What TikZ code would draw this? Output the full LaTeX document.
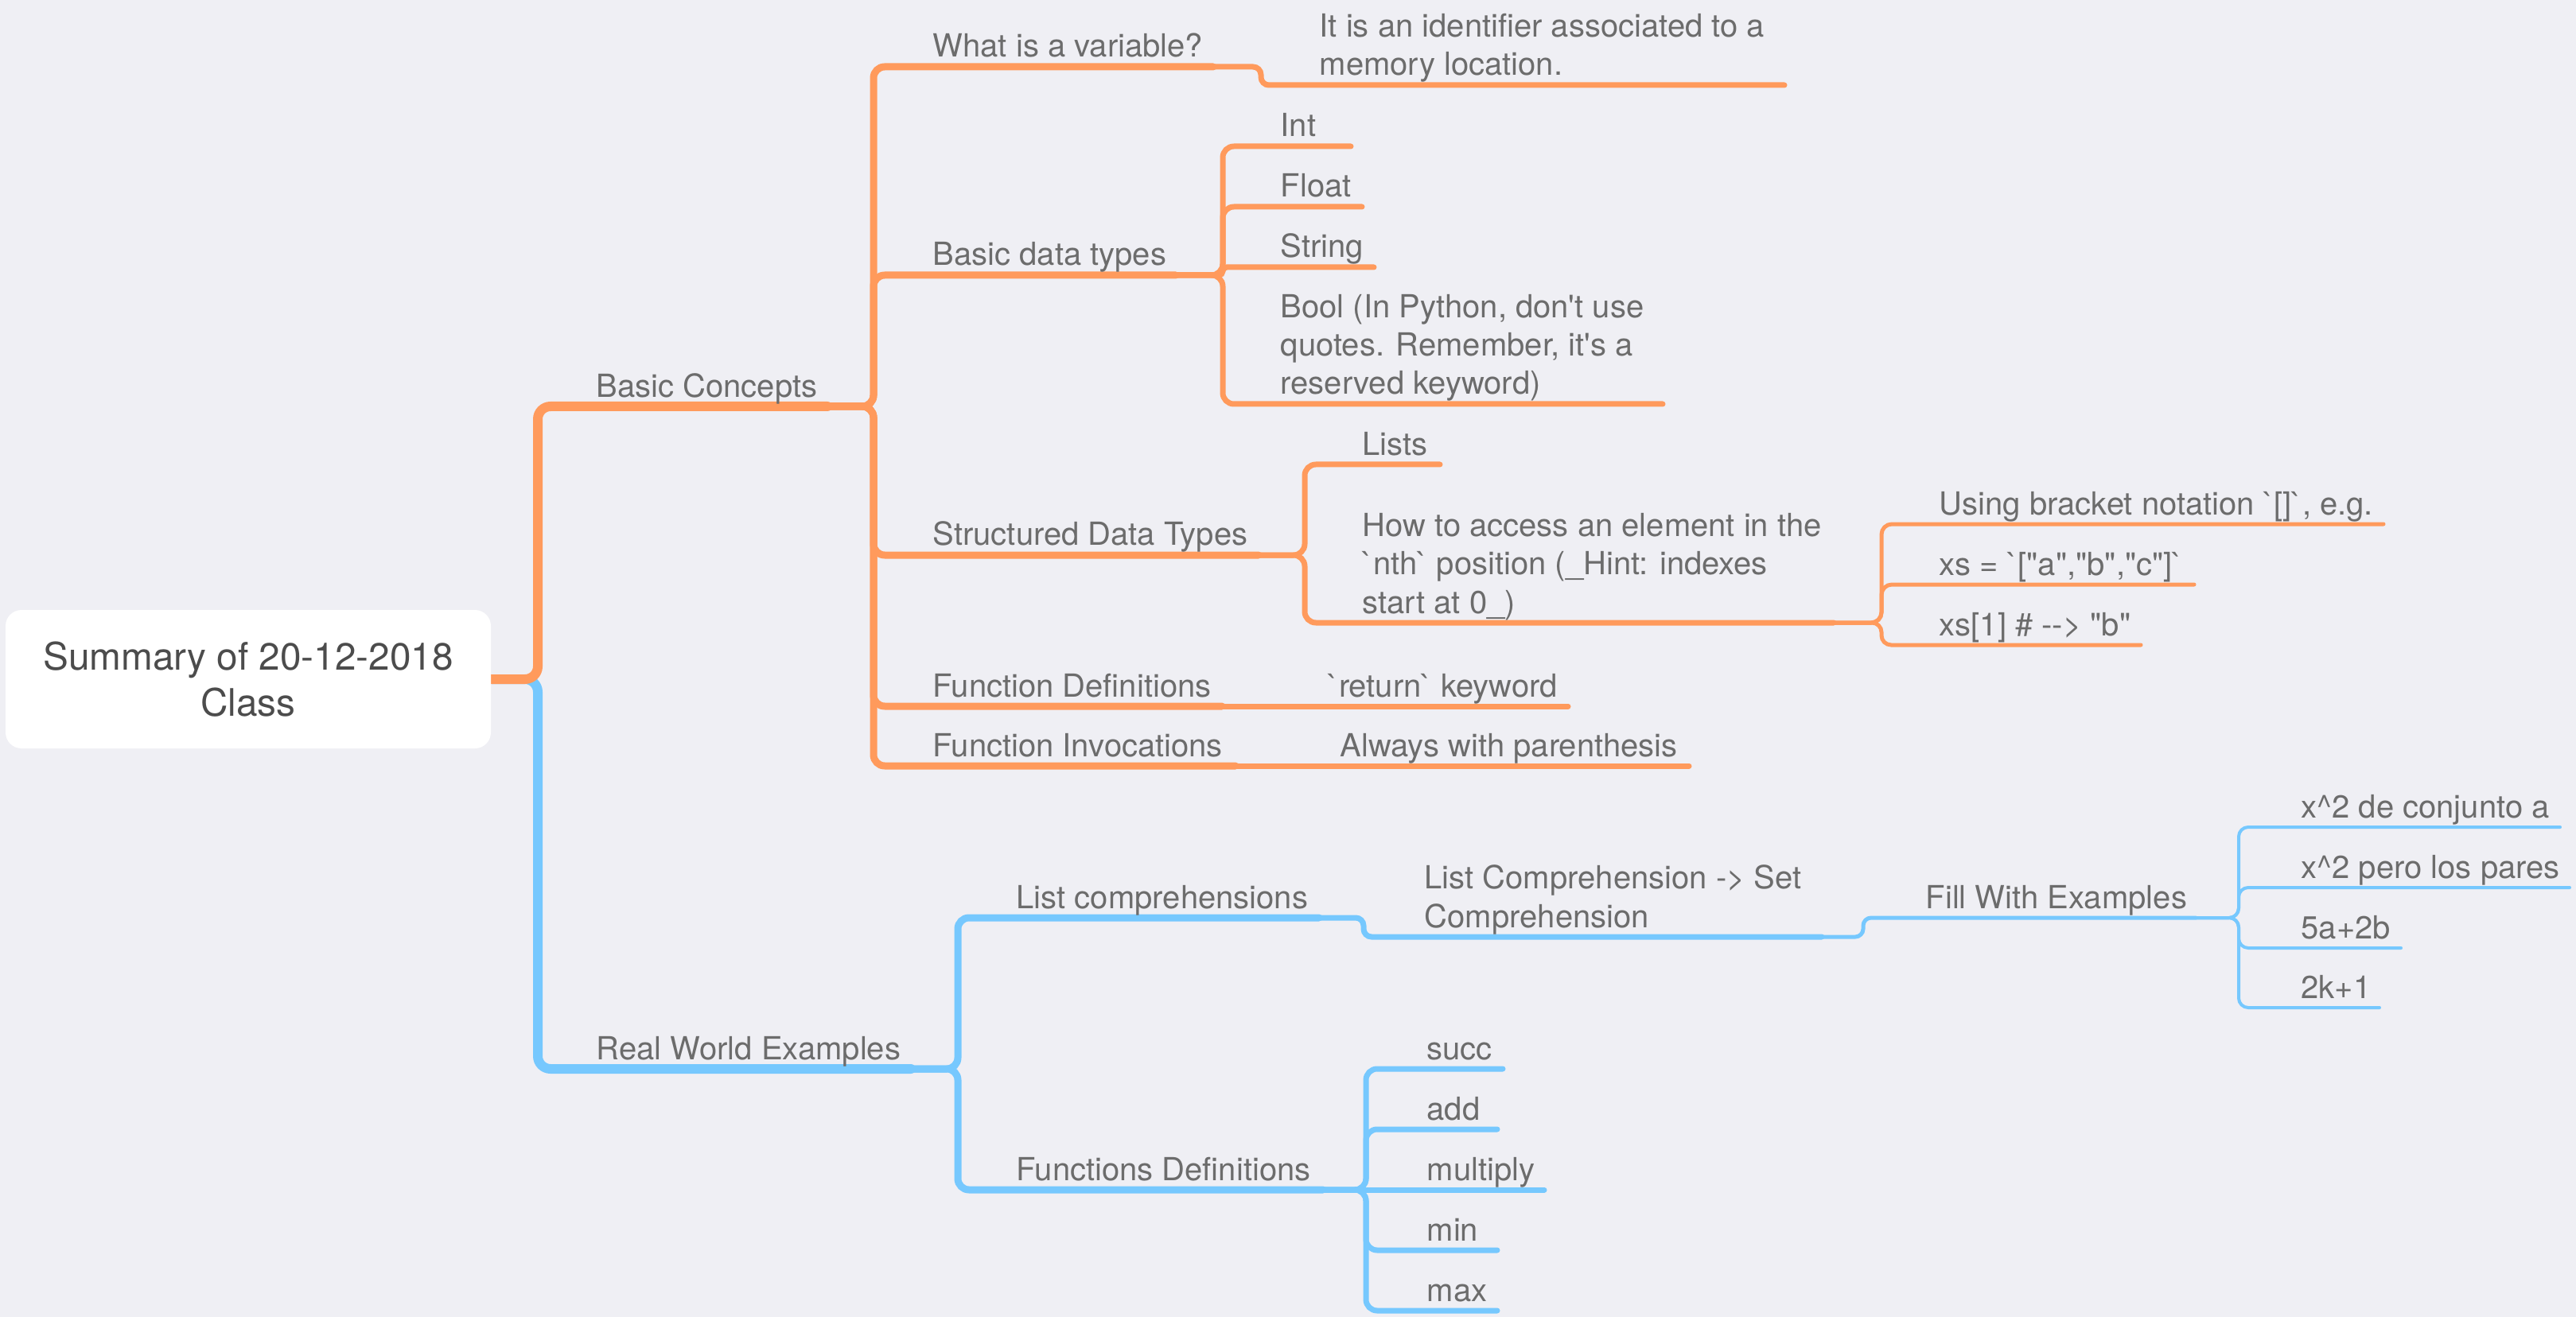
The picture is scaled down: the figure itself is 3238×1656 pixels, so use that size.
\documentclass[tikz,border=0pt]{standalone}
\usepackage{fontspec}
\newfontfamily\heros{TeX Gyre Heros}
\definecolor{bgc}{HTML}{EFEFF4}
\definecolor{org}{HTML}{FF9A5C}
\definecolor{sky}{HTML}{76C8FE}
\definecolor{txtgray}{HTML}{6C6C6C}
\definecolor{rootgray}{HTML}{4C4C4C}
\begin{document}
\begin{tikzpicture}[x=0.1mm,y=-0.1mm,
  lone/.style={line width=1.2mm, line cap=round, rounded corners=1.6mm},
  ltwo/.style={line width=0.9mm, line cap=round, rounded corners=1.4mm},
  lthree/.style={line width=0.7mm, line cap=round, rounded corners=1.4mm},
  lfour/.style={line width=0.5mm, line cap=round, rounded corners=1.3mm},
  lfive/.style={line width=0.4mm, line cap=round, rounded corners=1.2mm},
  txt/.style={font=\heros\fontsize{11.38}{13.66}\selectfont, text=txtgray, inner sep=0pt, anchor=base west},
  roottxt/.style={font=\heros\fontsize{13.57}{16.5}\selectfont, text=rootgray, inner sep=0pt, anchor=base},
  rootbox/.style={fill=white, draw=none, rounded corners=2mm, minimum width=61mm, minimum height=17.4mm, inner sep=0pt}]
\useasboundingbox (0,0) rectangle (3238,1656);
\fill[bgc] (0,0) rectangle (3238,1656);

% underline end coordinates
\coordinate (c-bc) at (1040,511);
\coordinate (c-rw) at (1145,1344);
\coordinate (c-wv) at (1525,84);
\coordinate (c-bdt) at (1478,346);
\coordinate (c-sdt) at (1582,698);
\coordinate (c-fdef) at (1536,888);
\coordinate (c-finv) at (1553,963);
\coordinate (c-iti) at (2243,107);
\coordinate (c-int) at (1698,184);
\coordinate (c-flt) at (1712,260);
\coordinate (c-str) at (1727,336);
\coordinate (c-bool) at (2090,508);
\coordinate (c-lst) at (1810,584);
\coordinate (c-how) at (2305,783);
\coordinate (c-ret) at (1971,888);
\coordinate (c-alw) at (2123,963);
\coordinate (c-ubn) at (2996,659);
\coordinate (c-xsa) at (2758,735);
\coordinate (c-xsb) at (2691,811);
\coordinate (c-lc) at (1658,1154);
\coordinate (c-fds) at (1663,1496);
\coordinate (c-lcs) at (2290,1178);
\coordinate (c-succ) at (1889,1344);
\coordinate (c-add) at (1882,1420);
\coordinate (c-mul) at (1941,1496);
\coordinate (c-min) at (1882,1572);
\coordinate (c-max) at (1882,1648);
\coordinate (c-fwe) at (2760,1154);
\coordinate (c-xde) at (3218,1040);
\coordinate (c-xpe) at (3230,1116);
\coordinate (c-fab) at (3018,1192);
\coordinate (c-tk) at (2991,1267);

% root box (placed first for anchors, drawn over later)
\path (312,854) node[rootbox, fill=none] (root) {};

% level 1
\draw[lone, sky] (root.east) -- (676,854) |- (c-rw);
\draw[lone, org] (root.east) -- (676,854) |- (c-bc);

% level 2 orange
\draw[ltwo, org] (c-bc) -- (1098,511) |- (c-wv);
\draw[ltwo, org] (c-bc) -- (1098,511) |- (c-bdt);
\draw[ltwo, org] (c-bc) -- (1098,511) |- (c-sdt);
\draw[ltwo, org] (c-bc) -- (1098,511) |- (c-fdef);
\draw[ltwo, org] (c-bc) -- (1098,511) |- (c-finv);

% level 3 orange
\draw[lthree, org, rounded corners=1mm] (c-wv) -- (1585,84) |- (c-iti);
\draw[lthree, org] (c-bdt) -- (1537,346) |- (c-int);
\draw[lthree, org] (c-bdt) -- (1537,346) |- (c-flt);
\draw[lthree, org, rounded corners=0.5mm] (c-bdt) -- (1537,346) |- (c-str);
\draw[lthree, org] (c-bdt) -- (1537,346) |- (c-bool);
\draw[lthree, org] (c-sdt) -- (1640,698) |- (c-lst);
\draw[lthree, org] (c-sdt) -- (1640,698) |- (c-how);
\draw[lthree, org] (c-fdef) -- (c-ret);
\draw[lthree, org] (c-finv) -- (c-alw);

% level 4 orange
\draw[lfour, org] (c-how) -- (2365,783) |- (c-ubn);
\draw[lfour, org] (c-how) -- (2365,783) |- (c-xsa);
\draw[lfour, org, rounded corners=1.2mm] (c-how) -- (2365,783) |- (c-xsb);

% level 2 blue
\draw[ltwo, sky] (c-rw) -- (1204,1344) |- (c-lc);
\draw[ltwo, sky] (c-rw) -- (1204,1344) |- (c-fds);

% level 3 blue
\draw[lthree, sky, rounded corners=1mm] (c-lc) -- (1714,1154) |- (c-lcs);
\draw[lthree, sky] (c-fds) -- (1717,1496) |- (c-succ);
\draw[lthree, sky] (c-fds) -- (1717,1496) |- (c-add);
\draw[lthree, sky] (c-fds) -- (c-mul);
\draw[lthree, sky] (c-fds) -- (1717,1496) |- (c-min);
\draw[lthree, sky] (c-fds) -- (1717,1496) |- (c-max);

% level 4 blue
\draw[lfour, sky, rounded corners=1mm] (c-lcs) -- (2342,1178) |- (c-fwe);

% level 5 blue
\draw[lfive, sky] (c-fwe) -- (2814,1154) |- (c-xde);
\draw[lfive, sky] (c-fwe) -- (2814,1154) |- (c-xpe);
\draw[lfive, sky] (c-fwe) -- (2814,1154) |- (c-fab);
\draw[lfive, sky] (c-fwe) -- (2814,1154) |- (c-tk);

% root box and text
\node[rootbox] (rootfill) at (312,854) {};
\node[roottxt] (t-root) at (312,900) {\begin{tabular}[b]{@{}c@{}}Summary of 20-12-2018\\Class\end{tabular}};

% texts
\node[txt] (t-bc) at (749,500) {Basic Concepts};
\node[txt] (t-rw) at (749,1332) {Real World Examples};

\node[txt] (t-wv) at (1172,72) {What is a variable?};
\node[txt] (t-bdt) at (1172,334) {Basic data types};
\node[txt] (t-sdt) at (1172,686) {Structured Data Types};
\node[txt] (t-fdef) at (1172,876) {Function Definitions};
\node[txt] (t-finv) at (1172,951) {Function Invocations};

\node[txt] (t-iti) at (1658,95) {\begin{tabular}[b]{@{}l@{}}It is an identifier associated to a\\memory location.\end{tabular}};
\node[txt] (t-int) at (1609,172) {Int};
\node[txt] (t-flt) at (1609,248) {Float};
\node[txt] (t-str) at (1609,324) {String};
\node[txt] (t-bool) at (1609,496) {\begin{tabular}[b]{@{}l@{}}Bool (In Python, don't use\\quotes. Remember, it's a\\reserved keyword)\end{tabular}};
\node[txt] (t-lst) at (1712,572) {Lists};
\node[txt] (t-how) at (1712,771) {\begin{tabular}[b]{@{}l@{}}How to access an element in the\\`nth` position (\_Hint: indexes\\start at 0\_)\end{tabular}};
\node[txt] (t-ret) at (1669,876) {`return` keyword};
\node[txt] (t-alw) at (1684,951) {Always with parenthesis};

\node[txt] (t-ubn) at (2437,647) {Using bracket notation `[]`, e.g.};
\node[txt] (t-xsa) at (2437,723) {xs = `["a","b","c"]`};
\node[txt] (t-xsb) at (2437,799) {xs[1] \# --> "b"};

\node[txt] (t-lc) at (1277,1142) {List comprehensions};
\node[txt] (t-fds) at (1277,1484) {Functions Definitions};

\node[txt] (t-lcs) at (1790,1166) {\begin{tabular}[b]{@{}l@{}}List Comprehension -> Set\\Comprehension\end{tabular}};
\node[txt] (t-succ) at (1793,1332) {succ};
\node[txt] (t-add) at (1793,1408) {add};
\node[txt] (t-mul) at (1793,1484) {multiply};
\node[txt] (t-min) at (1793,1560) {min};
\node[txt] (t-max) at (1793,1636) {max};

\node[txt] (t-fwe) at (2420,1142) {Fill With Examples};

\node[txt] (t-xde) at (2892,1028) {x\textasciicircum 2 de conjunto a};
\node[txt] (t-xpe) at (2892,1104) {x\textasciicircum 2 pero los pares};
\node[txt] (t-fab) at (2892,1180) {5a+2b};
\node[txt] (t-tk) at (2892,1255) {2k+1};
\end{tikzpicture}
\end{document}
